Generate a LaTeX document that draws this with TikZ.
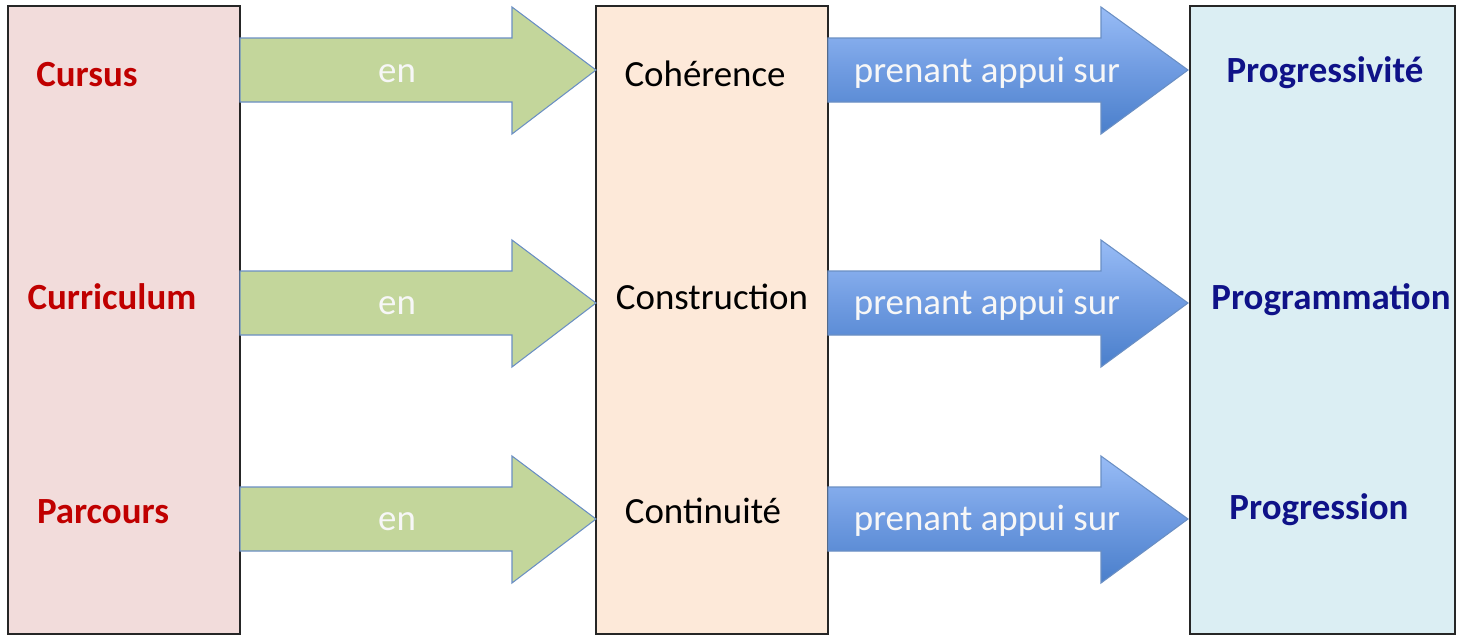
\documentclass[tikz,border=0pt]{standalone}
\usepackage{fontspec}
\setmainfont{Carlito}
\begin{document}
\begin{tikzpicture}[x=0.02cm,y=-0.02cm,
  box/.style={draw=black!85,line width=0.9pt},
  greenarrow/.style={draw=arrowedge,line width=0.6pt,fill=greenfill},
  bluearrow/.style={draw=arrowedge,line width=0.6pt,top color=bluetop,bottom color=bluebot,middle color=bluemid},
  lbl/.style={inner sep=0pt,font=\fontsize{21pt}{24pt}\selectfont,text height=13.4pt,text depth=0pt},
  low/.style={lbl,text height=9.9pt},
  redlbl/.style={lbl,text=redtxt,font=\fontsize{21pt}{24pt}\selectfont\bfseries},
  navylbl/.style={lbl,text=navytxt,font=\fontsize{21pt}{24pt}\selectfont\bfseries},
  onarrow/.style={low,text=white!97!black}
]
\definecolor{pinkfill}{HTML}{F2DCDB}
\definecolor{peachfill}{HTML}{FDE9D9}
\definecolor{cyanfill}{HTML}{DBEEF3}
\definecolor{greenfill}{HTML}{C3D69B}
\definecolor{arrowedge}{HTML}{6A8FC4}
\definecolor{bluetop}{HTML}{98BCF6}
\definecolor{bluemid}{HTML}{6F9BE1}
\definecolor{bluebot}{HTML}{4A7FCB}
\definecolor{redtxt}{HTML}{C00000}
\definecolor{navytxt}{HTML}{0F1288}
\useasboundingbox (0,0) rectangle (1457,636);
\fill[white] (0,0) rectangle (1457,636);
% boxes
\draw[box,fill=pinkfill] (8,6) rectangle (240,634);
\draw[box,fill=peachfill] (596,6) rectangle (828,634);
\draw[box,fill=cyanfill] (1190,6) rectangle (1455,634);
% arrows
\foreach \yc/\ys in {70/32, 303/32, 519/32}{
  \draw[greenarrow] (240,\yc-\ys) -- (512,\yc-\ys) -- (512,\yc-63) -- (596,\yc) -- (512,\yc+64) -- (512,\yc+\ys) -- (240,\yc+\ys) -- cycle;
  \draw[bluearrow] (828,\yc-\ys) -- (1101,\yc-\ys) -- (1101,\yc-63) -- (1188,\yc) -- (1101,\yc+64) -- (1101,\yc+\ys) -- (828,\yc+\ys) -- cycle;
}
% left labels
\node[redlbl] (cursus) at (87,75) {Cursus};
\node[redlbl] (curriculum) at (112,298) {Curriculum};
\node[redlbl] (parcours) at (103,512) {Parcours};
% middle labels
\node[lbl] (coherence) at (705,75) {Cohérence};
\node[lbl] (construction) at (712,298) {Construction};
\node[lbl] (continuite) at (703,512) {Continuité};
% right labels
\node[navylbl] (progressivite) at (1325,71) {Progressivité};
\node[navylbl] (programmation) at (1331,298) {Programmation};
\node[navylbl] (progression) at (1319,508) {Progression};
% arrow labels
\node[onarrow] (en1) at (397,74) {en};
\node[onarrow] (en2) at (397,306) {en};
\node[onarrow] (en3) at (397,522) {en};
\node[onarrow] (pa1) at (987,74) {prenant appui sur};
\node[onarrow] (pa2) at (987,306) {prenant appui sur};
\node[onarrow] (pa3) at (987,522) {prenant appui sur};
\end{tikzpicture}
\end{document}
